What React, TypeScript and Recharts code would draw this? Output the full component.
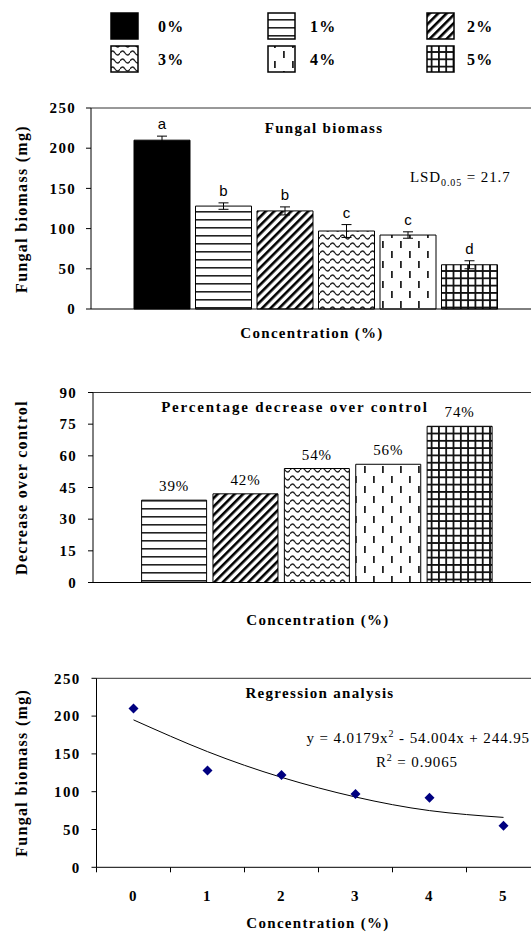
import React from "react";
import {
  BarChart,
  Bar,
  Cell,
  XAxis,
  YAxis,
  ErrorBar,
  LabelList,
  ReferenceLine,
  ComposedChart,
  Line,
  Scatter,
} from "recharts";

// concentrations tested
const concentrations = ["0%", "1%", "2%", "3%", "4%", "5%"];
const doses = [0, 1, 2, 3, 4, 5];

// fungal biomass (mg) with error bars and significance letters
const biomass = [210, 128, 122, 97, 92, 55];
const biomassErr = [5, 4, 5, 8, 4, 5];
const letters = ["a", "b", "b", "c", "c", "d"];

// percentage decrease over control, for 1%..5%
const decrease = [39, 42, 54, 56, 74];

// fitted trend line
const trendFit = [195, 153, 119, 93, 75, 66];

const biomassTicks = [0, 50, 100, 150, 200, 250];
const decreaseTicks = [0, 15, 30, 45, 60, 75, 90];

const patternIds = ["solid", "hlines", "diag", "wave", "dash", "grid"];

const SERIF = '"Liberation Serif", "Times New Roman", serif';
const boldText = {
  fontFamily: SERIF,
  fontWeight: 700,
  fontSize: 15,
  letterSpacing: 1.3,
  fill: "#000",
};
const plainText = {
  fontFamily: SERIF,
  fontWeight: 400,
  fontSize: 15,
  letterSpacing: 0.9,
  fill: "#000",
};
const sansText = {
  fontFamily: '"Liberation Sans", Arial, sans-serif',
  fontSize: 15,
  fill: "#000",
};

const fillFor = (i: number) =>
  patternIds[i] === "solid" ? "#000" : `url(#pat-${patternIds[i]})`;

function PatternDefs() {
  return (
    <svg width={0} height={0} style={{ position: "absolute" }}>
      <defs>
        <pattern id="pat-hlines" patternUnits="userSpaceOnUse" width={8} height={8}>
          <rect width={8} height={8} fill="#fff" />
          <rect y={3} width={8} height={1.6} fill="#222" />
        </pattern>
        <pattern
          id="pat-diag"
          patternUnits="userSpaceOnUse"
          width={6}
          height={6}
          patternTransform="rotate(45)"
        >
          <rect width={6} height={6} fill="#fff" />
          <rect width={2.6} height={6} fill="#000" />
        </pattern>
        <pattern id="pat-wave" patternUnits="userSpaceOnUse" width={10} height={8}>
          <rect width={10} height={8} fill="#fff" />
          <path d="M0 5 Q2.5 1 5 5 T10 5" fill="none" stroke="#222" strokeWidth={1.3} />
        </pattern>
        <pattern id="pat-dash" patternUnits="userSpaceOnUse" width={18} height={20}>
          <rect width={18} height={20} fill="#fff" />
          <rect x={4} y={1} width={1.8} height={7} fill="#222" />
          <rect x={13} y={11} width={1.8} height={7} fill="#222" />
        </pattern>
        <pattern id="pat-grid" patternUnits="userSpaceOnUse" width={7.3} height={7.3}>
          <rect width={7.3} height={7.3} fill="#fff" />
          <rect width={1.8} height={7.3} fill="#111" />
          <rect width={7.3} height={1.8} fill="#111" />
        </pattern>
      </defs>
    </svg>
  );
}

function TopLegend() {
  const swatchX = [111, 268, 427];
  const labelX = [158, 310, 467];
  const rowY = [13, 46];
  return (
    <svg width={531} height={80} style={{ position: "absolute", left: 0, top: 0 }}>
      {concentrations.map((c, i) => {
        const col = i % 3;
        const row = Math.floor(i / 3);
        return (
          <g key={c}>
            <rect
              x={swatchX[col]}
              y={rowY[row]}
              width={27}
              height={26}
              fill={fillFor(i)}
              stroke="#000"
              strokeWidth={1.5}
            />
            <text x={labelX[col]} y={rowY[row] + 19} style={{ ...boldText, fontSize: 16 }}>
              {c}
            </text>
          </g>
        );
      })}
    </svg>
  );
}

const YTick = (props: any) => {
  const { x, y, payload } = props;
  return (
    <text x={x} y={y} dy="0.35em" textAnchor="end" style={boldText}>
      {payload.value}
    </text>
  );
};

// regression panel: plot is 444px wide for six dose bands
const DOSE_BAND = 444 / 6;
const DoseTick = (props: any) => {
  const { x, y, payload } = props;
  const v = payload.value + 0.5;
  if (v > 5) return <g />;
  return (
    <text x={x + DOSE_BAND / 2} y={y} dy="0.71em" textAnchor="middle" style={boldText}>
      {v}
    </text>
  );
};

const PX_PER_MG = 201 / 250;

const renderLetter = (p: any) => {
  const x = p.x ?? p.viewBox?.x;
  const y = p.y ?? p.viewBox?.y;
  const w = p.width ?? p.viewBox?.width;
  const err = biomassErr[p.index] ?? 0;
  return (
    <text
      x={x + w / 2}
      y={y - err * PX_PER_MG - 7}
      textAnchor="middle"
      style={sansText}
    >
      {p.value}
    </text>
  );
};

const renderPct = (p: any) => {
  const x = p.x ?? p.viewBox?.x;
  const y = p.y ?? p.viewBox?.y;
  const w = p.width ?? p.viewBox?.width;
  return (
    <text x={x + w / 2} y={y - 9} textAnchor="middle" style={plainText}>
      {`${p.value}%`}
    </text>
  );
};

const Diamond = (props: any) => {
  const { cx, cy } = props;
  const r = 5;
  return (
    <polygon
      points={`${cx},${cy - r} ${cx + r},${cy} ${cx},${cy + r} ${cx - r},${cy}`}
      fill="#000080"
    />
  );
};

const axisLine = { stroke: "#000", strokeWidth: 1 };

export default function App() {
  const topRows = concentrations.map((c, i) => ({
    conc: c,
    biomass: biomass[i],
    err: biomassErr[i],
    letter: letters[i],
  }));
  const midRows = concentrations.slice(1).map((c, i) => ({
    conc: c,
    decrease: decrease[i],
  }));
  const regRows = doses.map((d, i) => ({
    dose: d,
    biomass: biomass[i],
    fit: trendFit[i],
  }));
  const doseBounds = [...doses.map((d) => d - 0.5), doses[doses.length - 1] + 0.5];

  return (
    <div
      style={{
        position: "fixed",
        left: 0,
        top: 0,
        width: 531,
        height: 935,
        overflow: "hidden",
        background: "#fff",
      }}
    >
      <PatternDefs />
      <TopLegend />

      {/* Fungal biomass bars */}
      <div style={{ position: "absolute", left: 0, top: 0 }}>
        <BarChart
          width={560}
          height={345}
          data={topRows}
          margin={{ top: 108, right: 20, left: 0, bottom: 0 }}
        >
          <XAxis
            dataKey="conc"
            height={36}
            padding={{ left: 40, right: 40 }}
            tick={false}
            tickLine={false}
            axisLine={axisLine}
          />
          <YAxis
            width={91}
            domain={[0, 250]}
            ticks={biomassTicks}
            interval={0}
            tick={<YTick />}
            tickSize={5}
            tickMargin={10}
            axisLine={axisLine}
            tickLine={{ stroke: "#000" }}
          />
          <ReferenceLine y={250} stroke="#333" />
          <Bar dataKey="biomass" barSize={56} stroke="#000" strokeWidth={1} isAnimationActive={false}>
            {topRows.map((r, i) => (
              <Cell key={r.conc} fill={fillFor(i)} />
            ))}
            <ErrorBar dataKey="err" width={5} stroke="#000" strokeWidth={1} direction="y" />
            <LabelList dataKey="letter" content={renderLetter} />
          </Bar>
          <text x={324} y={133} textAnchor="middle" style={boldText}>
            Fungal biomass
          </text>
          <text x={410} y={182} style={plainText}>
            LSD
            <tspan fontSize={10} dy={4}>
              0.05
            </tspan>
            <tspan dy={-4}> = 21.7</tspan>
          </text>
          <text
            transform="translate(27, 209) rotate(-90)"
            textAnchor="middle"
            style={{ ...boldText, fontSize: 16 }}
          >
            Fungal biomass (mg)
          </text>
          <text x={312} y={338} textAnchor="middle" style={boldText}>
            Concentration (%)
          </text>
        </BarChart>
      </div>

      {/* Percentage decrease bars */}
      <div style={{ position: "absolute", left: 0, top: 345 }}>
        <BarChart
          width={560}
          height={290}
          data={midRows}
          margin={{ top: 47.5, right: 19, left: 0, bottom: 0 }}
        >
          <XAxis
            dataKey="conc"
            height={52.5}
            padding={{ left: 45.6, right: 45.5 }}
            tick={false}
            tickLine={false}
            axisLine={axisLine}
          />
          <YAxis
            width={93}
            domain={[0, 90]}
            ticks={decreaseTicks}
            interval={0}
            tick={<YTick />}
            tickSize={5}
            tickMargin={11}
            axisLine={axisLine}
            tickLine={{ stroke: "#000" }}
          />
          <ReferenceLine y={90} stroke="#333" />
          <Bar dataKey="decrease" barSize={65} stroke="#000" strokeWidth={1} isAnimationActive={false}>
            {midRows.map((r, i) => (
              <Cell key={r.conc} fill={fillFor(i + 1)} />
            ))}
            <LabelList dataKey="decrease" content={renderPct} />
          </Bar>
          <text x={295} y={67} textAnchor="middle" style={{ ...boldText, letterSpacing: 1.8 }}>
            Percentage decrease over control
          </text>
          <text
            transform="translate(27, 142.5) rotate(-90)"
            textAnchor="middle"
            style={{ ...boldText, fontSize: 16 }}
          >
            Decrease over control
          </text>
          <text x={318} y={280} textAnchor="middle" style={boldText}>
            Concentration (%)
          </text>
        </BarChart>
      </div>

      {/* Regression analysis */}
      <div style={{ position: "absolute", left: 0, top: 635 }}>
        <ComposedChart
          width={560}
          height={300}
          data={regRows}
          margin={{ top: 43.3, right: 19.5, left: 0, bottom: 0 }}
        >
          <XAxis
            type="number"
            dataKey="dose"
            domain={[doseBounds[0], doseBounds[doseBounds.length - 1]]}
            ticks={doseBounds}
            interval={0}
            height={67.7}
            tick={<DoseTick />}
            tickSize={5}
            tickMargin={18}
            axisLine={axisLine}
            tickLine={{ stroke: "#000" }}
          />
          <YAxis
            width={96.5}
            domain={[0, 250]}
            ticks={biomassTicks}
            interval={0}
            tick={<YTick />}
            tickSize={5}
            tickMargin={11}
            axisLine={axisLine}
            tickLine={{ stroke: "#000" }}
          />
          <ReferenceLine y={250} stroke="#333" />
          <Line
            dataKey="fit"
            type="natural"
            stroke="#000"
            strokeWidth={1}
            dot={false}
            isAnimationActive={false}
          />
          <Scatter dataKey="biomass" shape={<Diamond />} isAnimationActive={false} />
          <text x={320} y={63} textAnchor="middle" style={boldText}>
            Regression analysis
          </text>
          <text x={530} y={108} textAnchor="end" style={plainText}>
            y = 4.0179x
            <tspan fontSize={10} dy={-6}>
              2
            </tspan>
            <tspan dy={6}> - 54.004x + 244.95</tspan>
          </text>
          <text x={458} y={132} textAnchor="end" style={plainText}>
            R
            <tspan fontSize={10} dy={-6}>
              2
            </tspan>
            <tspan dy={6}> = 0.9065</tspan>
          </text>
          <text
            transform="translate(27, 137.8) rotate(-90)"
            textAnchor="middle"
            style={{ ...boldText, fontSize: 16 }}
          >
            Fungal biomass (mg)
          </text>
          <text x={318} y={293} textAnchor="middle" style={boldText}>
            Concentration (%)
          </text>
        </ComposedChart>
      </div>
    </div>
  );
}
